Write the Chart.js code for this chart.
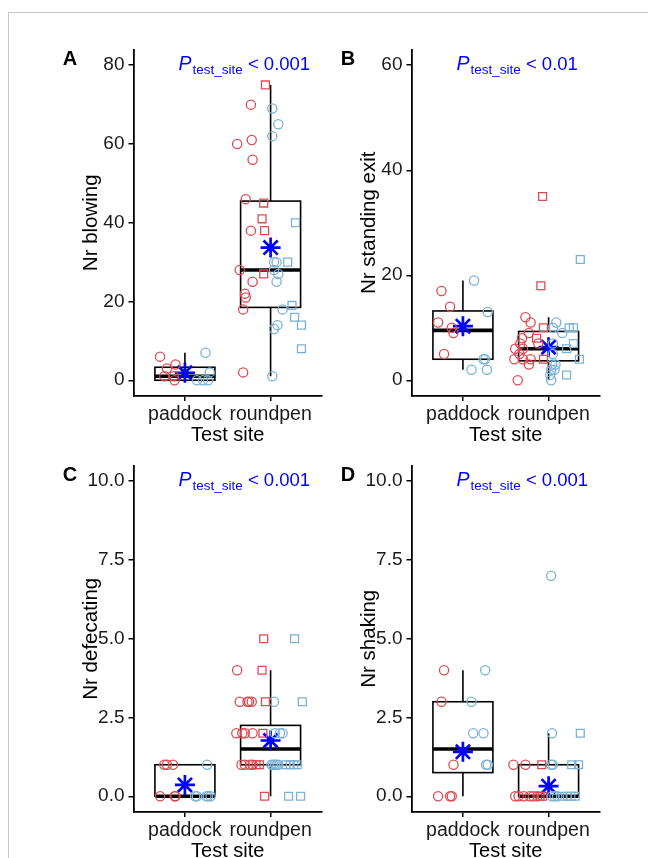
<!DOCTYPE html>
<html>
<head>
<meta charset="utf-8">
<script src="https://cdn.jsdelivr.net/npm/chart.js@4.4.1/dist/chart.umd.min.js"></script>
<style>
  html, body { margin: 0; padding: 0; background: #fff; overflow: hidden; }
  body { width: 648px; height: 858px; position: relative; }
  #frame { position: absolute; left: 8px; top: 12px; width: 660px; height: 870px;
           border-left: 1.5px solid #c6c6c6; border-top: 1.5px solid #c6c6c6; }
  canvas { position: absolute; }
</style>
</head>
<body>
<div id="frame"></div>
<canvas id="panelA" width="330" height="434" style="left:10px;top:14px"></canvas>
<canvas id="panelB" width="360" height="434" style="left:288px;top:14px"></canvas>
<canvas id="panelC" width="330" height="434" style="left:10px;top:430px"></canvas>
<canvas id="panelD" width="360" height="434" style="left:288px;top:430px"></canvas>
<script>
// categories and labels
const sites = ["paddock", "roundpen"];
const xTitle = "Test site";
const panelLetters = ["A", "B", "C", "D"];
const yTitles = ["Nr blowing", "Nr standing exit", "Nr defecating", "Nr shaking"];
const pValues = ["< 0.001", "< 0.01", "< 0.001", "< 0.001"];

// tick labels
const blowingTicks = [0, 20, 40, 60, 80];
const standTicks = [0, 20, 40, 60];
const countTicks = [0, 2.5, 5, 7.5, 10];

// observations: [site index, jitter, value]
const blowingRedCircles = [
    [0, -0.29, 6], [0, -0.21, 3], [0, -0.11, 4], [0, -0.24, 1], [0, -0.13, 1], [0, -0.12, 0],
    [1, -0.23, 70], [1, -0.39, 60], [1, -0.22, 61], [1, -0.21, 56], [1, -0.29, 46], [1, -0.23, 38],
    [1, -0.36, 28], [1, -0.21, 25], [1, -0.30, 22], [1, -0.29, 21], [1, -0.32, 18], [1, -0.32, 2]
];
const blowingRedSquares = [[1, -0.06, 75], [1, -0.08, 45], [1, -0.10, 41], [1, -0.07, 38], [1, -0.08, 27]];
const blowingBlueCircles = [
    [0, 0.24, 7], [0, 0.29, 2], [0, 0.14, 0], [0, 0.21, 0], [0, 0.27, 0],
    [1, 0.02, 69], [1, 0.09, 65], [1, 0.02, 62], [1, 0.04, 30], [1, 0.07, 30], [1, 0.04, 28],
    [1, 0.09, 27], [1, 0.07, 25], [1, 0.14, 18], [1, 0.08, 14], [1, 0.04, 13], [1, 0.02, 1]
];
const blowingBlueSquares = [[1, 0.29, 40], [1, 0.20, 30], [1, 0.25, 19], [1, 0.28, 16], [1, 0.36, 14], [1, 0.36, 8]];
// box: [lower whisker, q1, median, q3, upper whisker]
const blowingBox = [[0, 0, 1, 3.3, 7], [1, 18.5, 28, 45.5, 75]];
const blowingMean = [1.9, 33.7];

const standRedCircles = [
    [0, -0.25, 17], [0, -0.15, 14], [0, -0.29, 11], [0, -0.13, 10], [0, -0.11, 9], [0, -0.22, 5],
    [1, -0.27, 12], [1, -0.21, 11], [1, -0.23, 9], [1, -0.31, 8], [1, -0.33, 7], [1, -0.12, 7],
    [1, -0.39, 6], [1, -0.30, 6], [1, -0.34, 5], [1, -0.40, 4], [1, -0.30, 4], [1, -0.21, 4],
    [1, -0.23, 3], [1, -0.36, 0]
];
const standRedSquares = [[1, -0.07, 35], [1, -0.09, 18], [1, -0.06, 10], [1, -0.14, 8], [1, -0.06, 4]];
const standBlueCircles = [
    [0, 0.13, 19], [0, 0.29, 13], [0, 0.24, 4], [0, 0.26, 4], [0, 0.10, 2], [0, 0.28, 2],
    [1, 0.09, 11], [1, 0.05, 10], [1, 0.16, 9], [1, 0.05, 7], [1, 0.05, 5], [1, 0.04, 3],
    [1, 0.08, 3], [1, 0.03, 2], [1, 0.07, 2], [1, 0.02, 1], [1, 0.03, 0]
];
const standBlueSquares = [[1, 0.37, 23], [1, 0.24, 10], [1, 0.29, 10], [1, 0.29, 7], [1, 0.21, 6], [1, 0.36, 4], [1, 0.21, 1]];
const standBox = [[2, 4, 9.5, 13.2, 19], [0, 3.7, 6, 9.3, 12]];
const standMean = [10.3, 6.3];

const defRedCircles = [
    [0, -0.24, 1], [0, -0.21, 1], [0, -0.14, 1], [0, -0.29, 0], [0, -0.12, 0], [0, -0.11, 0],
    [1, -0.39, 4], [1, -0.36, 3], [1, -0.27, 3], [1, -0.25, 3], [1, -0.22, 3], [1, -0.40, 2],
    [1, -0.33, 2], [1, -0.30, 2], [1, -0.21, 2], [1, -0.34, 1], [1, -0.30, 1], [1, -0.24, 1], [1, -0.21, 1]
];
const defRedSquares = [[1, -0.08, 5], [1, -0.10, 4], [1, -0.06, 3], [1, -0.09, 2], [1, -0.17, 1], [1, -0.13, 1], [1, -0.07, 0]];
const defBlueCircles = [
    [0, 0.26, 1], [0, 0.12, 0], [0, 0.14, 0], [0, 0.25, 0], [0, 0.27, 0], [0, 0.30, 0],
    [1, 0.04, 3], [1, 0.05, 2], [1, 0.11, 2], [1, 0.14, 2], [1, 0.01, 1], [1, 0.03, 1], [1, 0.05, 1], [1, 0.07, 1], [1, 0.09, 1]
];
const defBlueSquares = [[1, 0.28, 5], [1, 0.37, 3], [1, 0.18, 1], [1, 0.23, 1], [1, 0.27, 1], [1, 0.31, 1], [1, 0.21, 0], [1, 0.35, 0]];
const defBox = [[0, 0, 0, 1, 1], [0, 1, 1.5, 2.25, 4]];
const defMean = [0.36, 1.77];

const shakeRedCircles = [
    [0, -0.22, 4], [0, -0.25, 3], [0, -0.11, 1], [0, -0.29, 0], [0, -0.15, 0], [0, -0.13, 0],
    [1, -0.41, 1], [1, -0.27, 1], [1, -0.39, 0], [1, -0.35, 0], [1, -0.29, 0], [1, -0.22, 0], [1, -0.18, 0], [1, -0.13, 0]
];
const shakeRedSquares = [[1, -0.08, 1], [1, -0.10, 0], [1, -0.07, 0]];
const shakeBlueCircles = [
    [0, 0.26, 4], [0, 0.10, 3], [0, 0.12, 2], [0, 0.24, 2], [0, 0.27, 1], [0, 0.29, 1],
    [1, 0.03, 7], [1, 0.04, 2], [1, 0.03, 1], [1, 0.05, 1], [1, 0.04, 0], [1, 0.07, 0], [1, 0.10, 0]
];
const shakeBlueSquares = [[1, 0.37, 2], [1, 0.27, 1], [1, 0.35, 1], [1, 0.16, 0], [1, 0.22, 0], [1, 0.26, 0], [1, 0.31, 0]];
const shakeBox = [[0, 0.75, 1.5, 3, 4], [0, 0, 0, 1, 2]];
const shakeMean = [1.41, 0.32];

const RED = "#de4a52";
const BLUE = "#7ab2d6";
const MEAN_BLUE = "#0000ff";
const FONT = "'Liberation Sans', Arial, sans-serif";
const boxHalf = 0.35;

function toPoints(obs) {
    return obs.map(o => ({ x: o[0] + 1 + o[1], y: o[2] }));
}

// boxplots are drawn under the points, from the y scale
const boxPlugin = {
    id: "boxes",
    beforeDatasetsDraw(chart, args, opts) {
        const { ctx, scales: { x, y } } = chart;
        ctx.save();
        ctx.strokeStyle = "#000";
        opts.stats.forEach((s, i) => {
            const cx = x.getPixelForValue(i + 1);
            const l = x.getPixelForValue(i + 1 - boxHalf);
            const r = x.getPixelForValue(i + 1 + boxHalf);
            const [lo, q1, med, q3, hi] = s.map(v => y.getPixelForValue(v));
            ctx.lineWidth = 1.6;
            ctx.beginPath();
            ctx.moveTo(cx, q3); ctx.lineTo(cx, hi);
            ctx.moveTo(cx, q1); ctx.lineTo(cx, lo);
            ctx.stroke();
            ctx.strokeRect(l, q3, r - l, q1 - q3);
            ctx.lineWidth = 3.6;
            ctx.beginPath();
            ctx.moveTo(l, med); ctx.lineTo(r, med);
            ctx.stroke();
        });
        ctx.restore();
    }
};

// panel letter and p-value annotation
const notePlugin = {
    id: "notes",
    afterDraw(chart, args, opts) {
        const { ctx, chartArea } = chart;
        ctx.save();
        ctx.textBaseline = "alphabetic";
        ctx.fillStyle = "#000";
        ctx.font = "bold 20px " + FONT;
        ctx.textAlign = "center";
        ctx.fillText(opts.letter, chartArea.left - 63.5, chartArea.top + 15.5);

        ctx.textAlign = "left";
        ctx.fillStyle = MEAN_BLUE;
        let px = chartArea.left + 45;
        const py = chartArea.top + 20.5;
        ctx.font = "italic 19.5px " + FONT;
        ctx.fillText("P", px, py);
        px += ctx.measureText("P").width + 1;
        ctx.font = "13.5px " + FONT;
        ctx.fillText("test_site", px, py + 4);
        px += ctx.measureText("test_site").width;
        ctx.font = "18.5px " + FONT;
        ctx.fillText(" " + opts.p, px, py);
        ctx.restore();
    }
};

function makePanel(id, idx, groups, box, mean, ticks, yMin, yMax, padRight) {
    const pointSet = (data, color, style, radius) => ({
        data: toPoints(data),
        pointStyle: style,
        pointRadius: radius,
        borderColor: color,
        backgroundColor: "rgba(0,0,0,0)",
        pointBorderWidth: 1.3,
        showLine: false
    });
    const decimals = ticks.some(t => t % 1 !== 0) ? 1 : 0;
    new Chart(document.getElementById(id), {
        type: "scatter",
        data: {
            datasets: [
                pointSet(groups[0], RED, "circle", 4.6),
                pointSet(groups[1], RED, "rect", 5.6),
                pointSet(groups[2], BLUE, "circle", 4.6),
                pointSet(groups[3], BLUE, "rect", 5.6),
                {
                    data: mean.map((m, i) => ({ x: i + 1, y: m })),
                    pointStyle: "star",
                    pointRadius: 10,
                    borderColor: MEAN_BLUE,
                    backgroundColor: MEAN_BLUE,
                    pointBorderWidth: 2.7
                }
            ]
        },
        options: {
            responsive: false,
            animation: false,
            devicePixelRatio: 1,
            layout: { padding: { left: 60, top: 35.5, right: padRight, bottom: 0 } },
            plugins: {
                legend: { display: false },
                tooltip: { enabled: false },
                boxes: { stats: box },
                notes: { letter: panelLetters[idx], p: pValues[idx] }
            },
            scales: {
                x: {
                    type: "linear",
                    min: 0.4,
                    max: 2.6,
                    afterBuildTicks: s => { s.ticks = sites.map((_, i) => ({ value: i + 1 })); },
                    afterFit: s => { s.height = 52; s.paddingLeft = 0; s.paddingRight = 0; },
                    ticks: {
                        callback: v => sites[v - 1],
                        color: "#1a1a1a",
                        font: { family: FONT, size: 19.5 },
                        padding: 2,
                        maxRotation: 0
                    },
                    grid: { drawOnChartArea: false, drawTicks: true, tickLength: 5, color: "#000", lineWidth: 1.5 },
                    border: { color: "#000", width: 1.8 },
                    title: { display: true, text: xTitle, color: "#000", font: { family: FONT, size: 20 }, padding: { top: 0, bottom: 0.5 } }
                },
                y: {
                    type: "linear",
                    min: yMin,
                    max: yMax,
                    afterBuildTicks: s => { s.ticks = ticks.map(v => ({ value: v })); },
                    afterFit: s => { s.width = 63.5; s.paddingTop = 0; s.paddingBottom = 0; },
                    ticks: {
                        callback: v => v.toFixed(decimals),
                        color: "#1a1a1a",
                        font: { family: FONT, size: 19 },
                        padding: 4
                    },
                    grid: { drawOnChartArea: false, drawTicks: true, tickLength: 5, color: "#000", lineWidth: 1.5 },
                    border: { color: "#000", width: 1.8 },
                    title: { display: true, text: yTitles[idx], color: "#000", font: { family: FONT, size: 20.5 }, padding: { top: 9, bottom: 0 } }
                }
            }
        },
        plugins: [boxPlugin, notePlugin]
    });
}

makePanel("panelA", 0, [blowingRedCircles, blowingRedSquares, blowingBlueCircles, blowingBlueSquares], blowingBox, blowingMean, blowingTicks, -4, 84, 18);
makePanel("panelB", 1, [standRedCircles, standRedSquares, standBlueCircles, standBlueSquares], standBox, standMean, standTicks, -3, 63, 48);
makePanel("panelC", 2, [defRedCircles, defRedSquares, defBlueCircles, defBlueSquares], defBox, defMean, countTicks, -0.5, 10.5, 18);
makePanel("panelD", 3, [shakeRedCircles, shakeRedSquares, shakeBlueCircles, shakeBlueSquares], shakeBox, shakeMean, countTicks, -0.5, 10.5, 48);
</script>
</body>
</html>
